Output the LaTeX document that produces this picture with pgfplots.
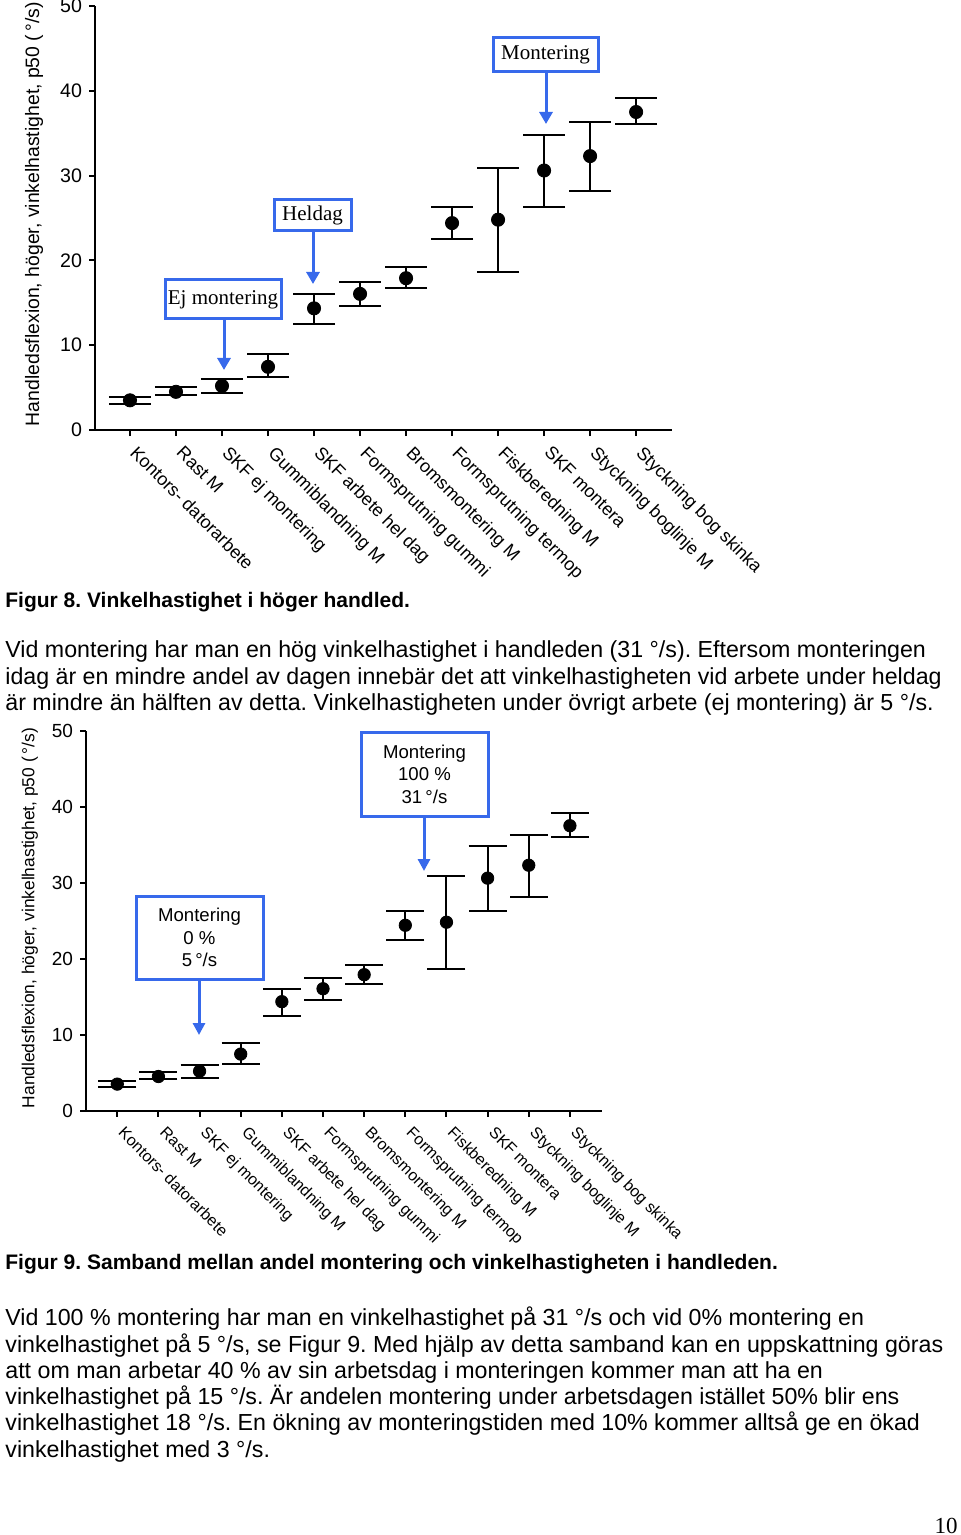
\documentclass[border=0pt]{standalone}
\usepackage{fontspec}
\setmainfont{Liberation Sans}
\newfontfamily\serif{Liberation Serif}
\usepackage{pgfplots}
\usepackage{pgfplotstable}
\pgfplotsset{compat=1.18}
\usetikzlibrary{arrows.meta}
\definecolor{annblue}{RGB}{55,105,235}

\pgfplotstableread{
x y ep em
0 3.5 0.43 0.43
1 4.5 0.55 0.35
2 5.2 0.8 0.85
3 7.45 1.5 1.25
4 14.35 1.7 1.85
5 16.05 1.45 1.45
6 17.9 1.3 1.2
7 24.4 1.85 1.9
8 24.8 6.1 6.2
9 30.6 4.2 4.3
10 32.3 4.0 4.15
11 37.5 1.7 1.45
}\datatable

\pgfplotsset{
  pagechart/.style={
    scale only axis, anchor=south west,
    xmin=-0.76, xmax=11.78, ymin=0, ymax=50,
    axis lines=left, axis line style={-, line width=1pt, black},
    xtick={0,...,11}, ytick={0,10,...,50},
    xticklabels={Kontors- datorarbete, Rast M, SKF ej montering, Gummiblandning M, SKF arbete hel dag, Formsprutning gummi, Bromsmontering M, Formsprutning termop, Fiskberedning M, SKF montera, Styckning boglinje M, Styckning bog skinka},
    tick align=outside, major tick length=3pt,
    tick style={line width=1pt, black},
    xticklabel style={rotate=-45, anchor=north west, inner sep=1pt, xshift=5pt, yshift=1pt},
    yticklabel style={/pgf/number format/assume math mode=true},
    clip=false,
  }
}

\begin{document}
\frenchspacing
\begin{tikzpicture}
\path[use as bounding box] (0,0) rectangle (480pt,-767.5pt);

\begin{axis}[pagechart, at={(47.5pt,-215pt)}, width=288.5pt, height=212pt,
  xticklabel style={font=\fontsize{9.0}{10}\selectfont},
  yticklabel style={font=\fontsize{9.8}{10}\selectfont}]
\addplot[only marks, mark=*, mark size=3.3pt, black,
  error bars/.cd, y dir=both, y explicit,
  error bar style={line width=1pt, black},
  error mark options={rotate=90, line width=1pt, mark size=10.5pt, black}]
  table[x=x, y=y, y error plus=ep, y error minus=em]{\datatable};
\end{axis}

\begin{axis}[pagechart, at={(43pt,-555.35pt)}, width=258pt, height=190pt,
  xticklabel style={font=\fontsize{8.0}{9}\selectfont},
  yticklabel style={font=\fontsize{9.5}{10}\selectfont}]
\addplot[only marks, mark=*, mark size=3.1pt, black,
  error bars/.cd, y dir=both, y explicit,
  error bar style={line width=1pt, black},
  error mark options={rotate=90, line width=1pt, mark size=9.5pt, black}]
  table[x=x, y=y, y error plus=ep, y error minus=em]{\datatable};
\end{axis}

\begin{scope}[x=0.5pt,y=-0.5pt]
% y labels
\node[rotate=90, inner sep=0, font=\fontsize{9.7}{10}\selectfont] at (34,214) {Handledsflexion, höger, vinkelhastighet, p50 (\,°/s)};
\node[rotate=90, inner sep=0, font=\fontsize{8.7}{10}\selectfont] at (30,918) {Handledsflexion, höger, vinkelhastighet, p50 (\,°/s)};

% chart 1 annotations
\draw[annblue, line width=1.5pt, fill=white] (165,280) rectangle (281,319);
\node[font=\serif\fontsize{10.5}{12}\selectfont] at (223,299.5) {Ej montering};
\draw[annblue, line width=1.5pt, -{Triangle[length=6pt,width=6.5pt]}] (224,319) -- (224,370);

\draw[annblue, line width=1.5pt, fill=white] (274,200) rectangle (351,231);
\node[font=\serif\fontsize{10.5}{12}\selectfont] at (312.5,215.5) {Heldag};
\draw[annblue, line width=1.5pt, -{Triangle[length=6pt,width=6.5pt]}] (313,231) -- (313,284);

\draw[annblue, line width=1.5pt, fill=white] (493,38) rectangle (598,72);
\node[font=\serif\fontsize{10.5}{12}\selectfont] at (545.5,55) {Montering};
\draw[annblue, line width=1.5pt, -{Triangle[length=6pt,width=6.5pt]}] (546,72) -- (546,124);

% chart 2 annotations
\draw[annblue, line width=1.5pt, fill=white] (136,896) rectangle (263,979);
\node[align=center, font=\fontsize{9.3}{11.25}\selectfont] at (199.5,937.5) {Montering\\0 \%\\5\,°/s};
\draw[annblue, line width=1.5pt, -{Triangle[length=6pt,width=6pt]}] (199,979) -- (199,1035);

\draw[annblue, line width=1.5pt, fill=white] (361,732) rectangle (488,816);
\node[align=center, font=\fontsize{9.3}{11.25}\selectfont] at (424.5,774) {Montering\\100 \%\\31\,°/s};
\draw[annblue, line width=1.5pt, -{Triangle[length=6pt,width=6pt]}] (424,816) -- (424,871);

% text
\node[anchor=base west, inner sep=0, font=\bfseries\fontsize{10.5}{12}\selectfont] at (5,607) {Figur 8. Vinkelhastighet i höger handled.};
\begin{scope}[every node/.style={anchor=base west, inner sep=0, font=\fontsize{11.6}{13}\selectfont}]
\node at (5,657) {Vid montering har man en hög vinkelhastighet i handleden (31 °/s). Eftersom monteringen};
\node at (5,684) {idag är en mindre andel av dagen innebär det att vinkelhastigheten vid arbete under heldag};
\node at (5,710) {är mindre än hälften av detta. Vinkelhastigheten under övrigt arbete (ej montering) är 5 °/s.};
\end{scope}
\node[anchor=base west, inner sep=0, font=\bfseries\fontsize{10.5}{12}\selectfont] at (5,1269) {Figur 9. Samband mellan andel montering och vinkelhastigheten i handleden.};
\begin{scope}[every node/.style={anchor=base west, inner sep=0, font=\fontsize{11.6}{13}\selectfont}]
\node at (5,1325) {Vid 100 \% montering har man en vinkelhastighet på 31~°/s och vid 0\% montering en};
\node at (5,1352) {vinkelhastighet på 5 °/s, se Figur 9. Med hjälp av detta samband kan en uppskattning göras};
\node at (5,1378) {att om man arbetar 40 \% av sin arbetsdag i monteringen kommer man att ha en};
\node at (5,1404) {vinkelhastighet på 15 °/s. Är andelen montering under arbetsdagen istället 50\% blir ens};
\node at (5,1430) {vinkelhastighet 18 °/s. En ökning av monteringstiden med 10\% kommer alltså ge en ökad};
\node at (5,1457) {vinkelhastighet med 3 °/s.};
\end{scope}
\node[anchor=base east, inner sep=0, font=\serif\fontsize{11.5}{12}\selectfont] at (958,1533) {10};
\end{scope}
\end{tikzpicture}
\end{document}
